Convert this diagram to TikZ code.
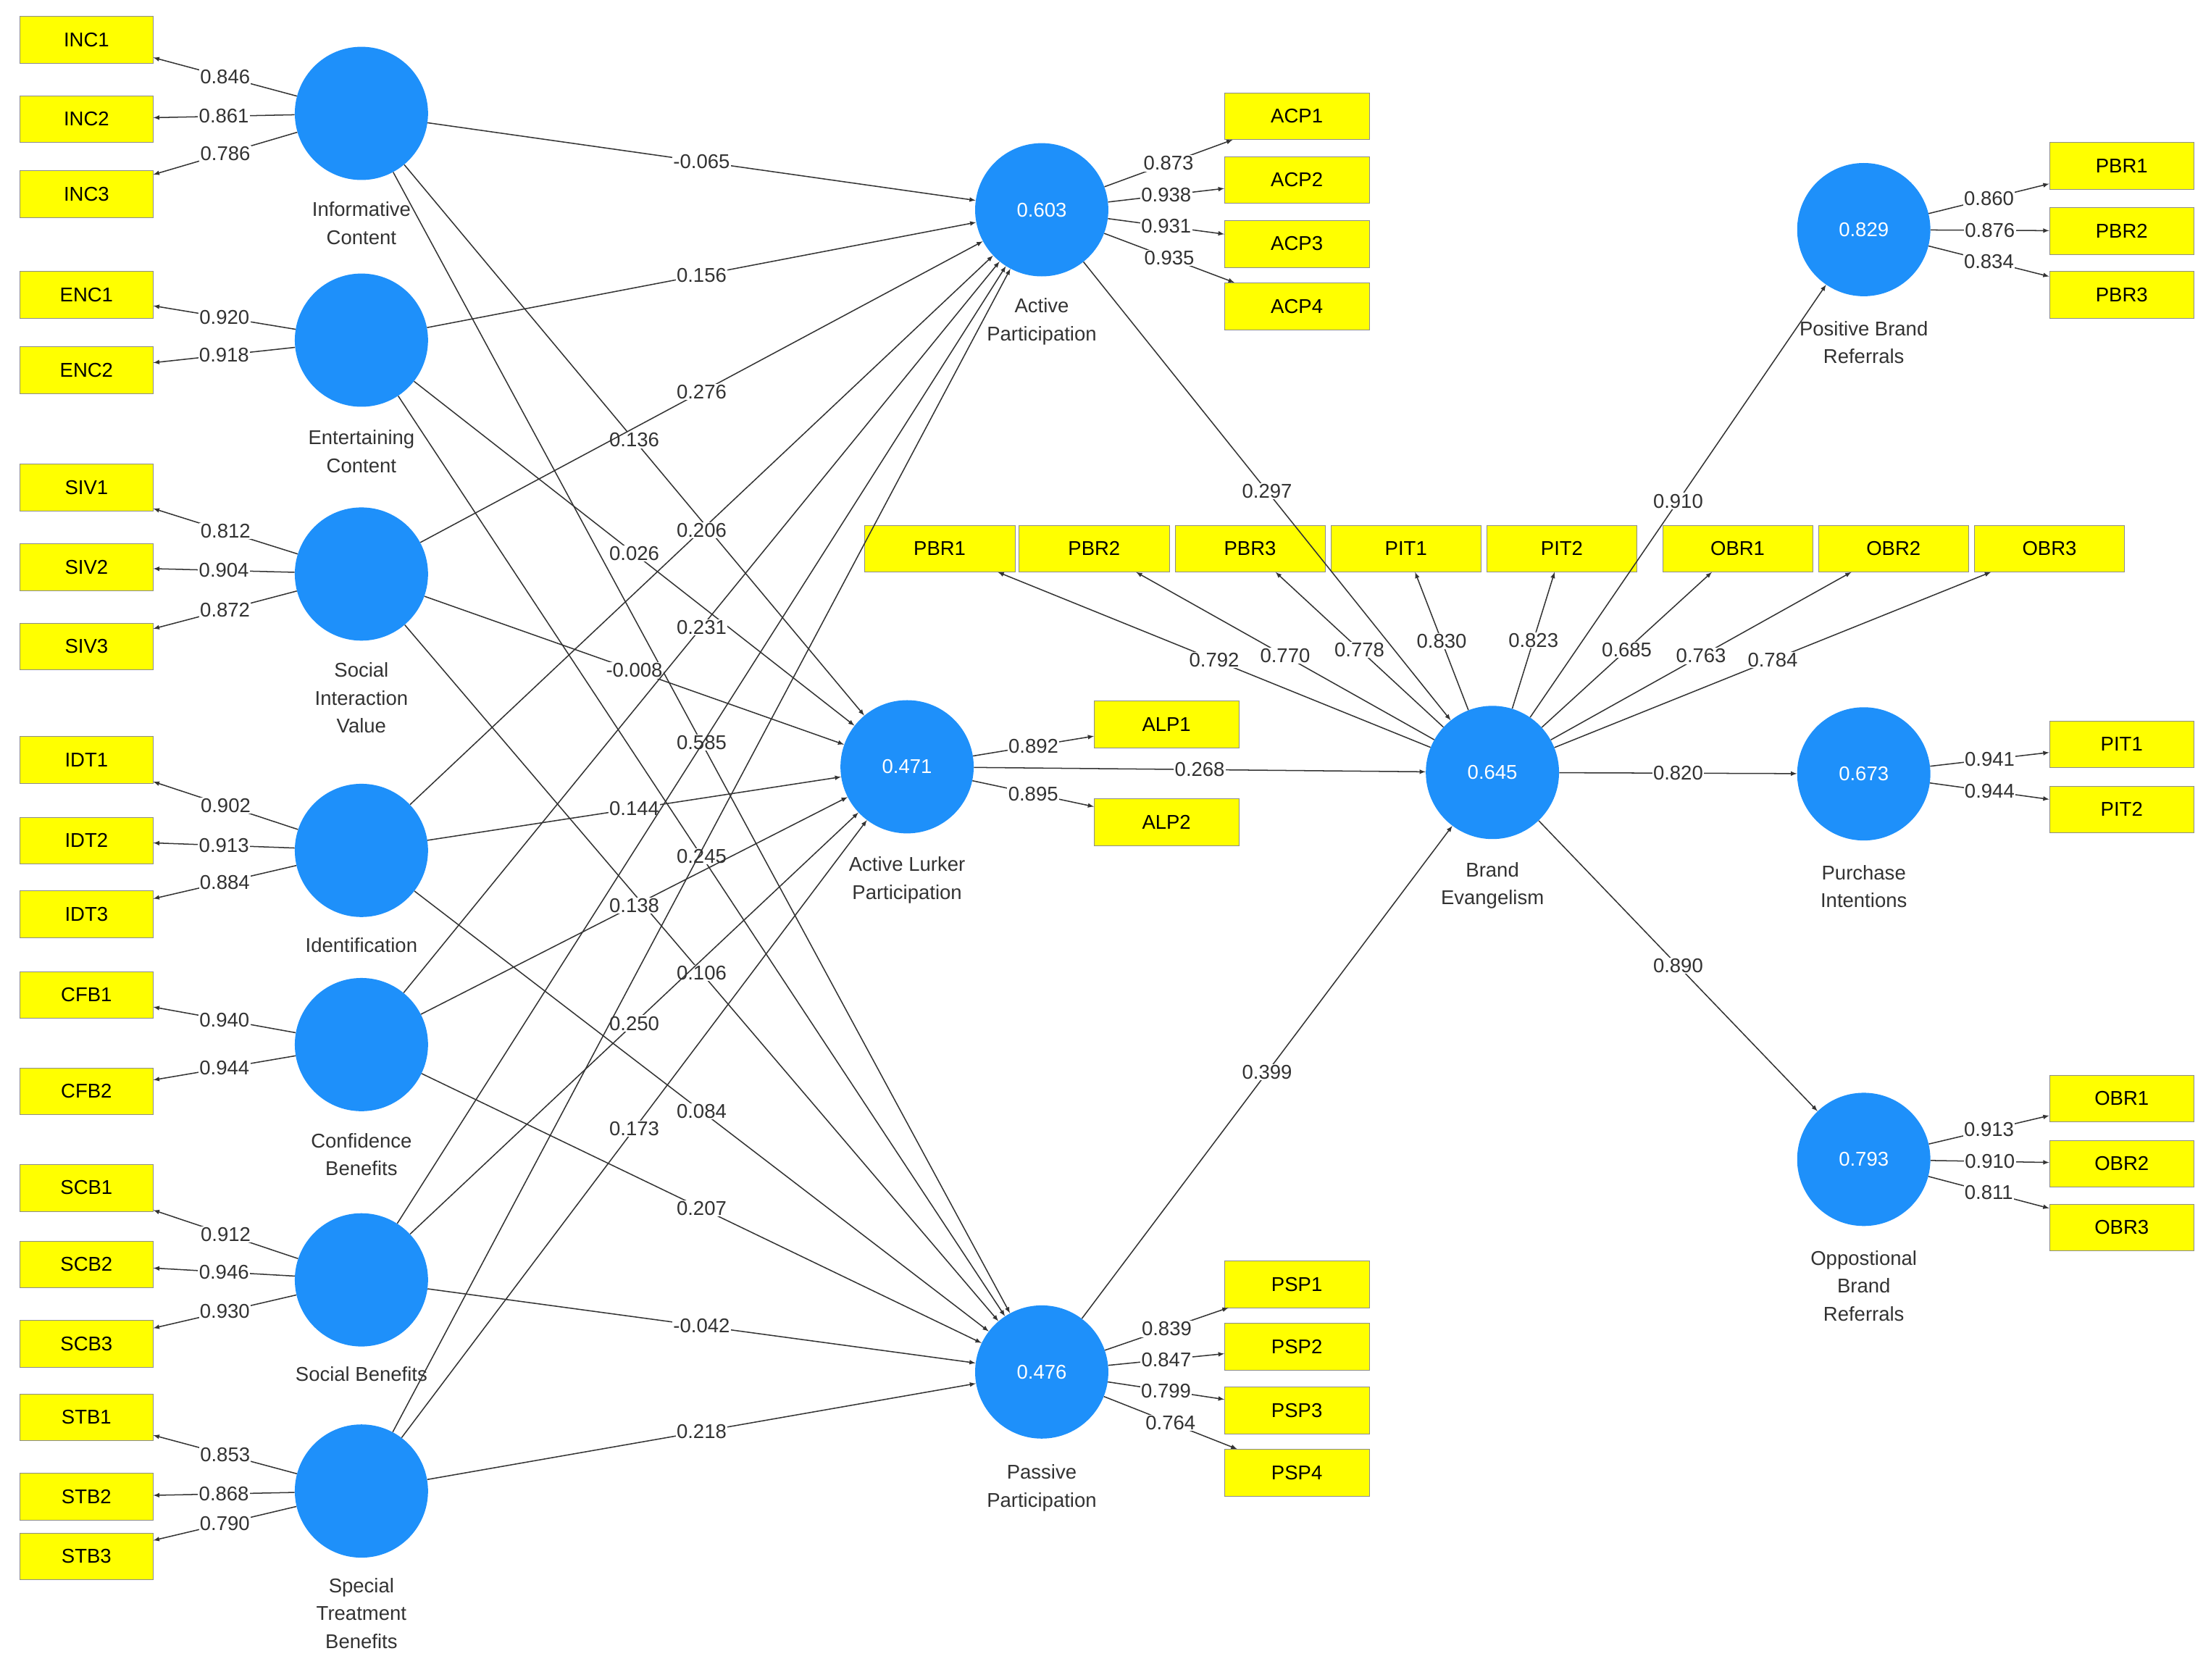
\documentclass[tikz,border=0pt]{standalone}
\usepackage{fontspec}
\setmainfont{Liberation Sans}
\definecolor{lvblue}{RGB}{30,144,250}
\definecolor{indyel}{RGB}{255,255,0}
\definecolor{txtgray}{RGB}{50,50,50}
\begin{document}
\begin{tikzpicture}[x=0.05cm,y=-0.05cm,>=latex,
  lv/.style={circle,fill=lvblue,minimum size=4.7cm,inner sep=0pt,text=white,font=\fontsize{20}{24}\selectfont},
  ind/.style={draw=black!45,fill=indyel,minimum width=4.7cm,minimum height=1.65cm,inner sep=0pt,font=\fontsize{20}{24}\selectfont},
  indw/.style={ind,minimum width=5.3cm},
  lvt/.style={align=center,text=txtgray,font=\fontsize{20}{28}\selectfont},
  lab/.style={fill=white,inner sep=1pt,font=\fontsize{20}{24}\selectfont,text=txtgray},
  pth/.style={->,line width=1.1pt,black!80}]
\useasboundingbox (0,0) rectangle (1560,1185);

% latent variables
\node[lv] (INC) at (255,80) {};
\node[lv] (ENC) at (255,240) {};
\node[lv] (SIV) at (255,405) {};
\node[lv] (IDT) at (255,600) {};
\node[lv] (CFB) at (255,737) {};
\node[lv] (SCB) at (255,903) {};
\node[lv] (STB) at (255,1052) {};
\node[lv] (ACP) at (735,148) {0.603};
\node[lv] (ALP) at (640,541) {0.471};
\node[lv] (PSP) at (735,968) {0.476};
\node[lv] (BE) at (1053,545) {0.645};
\node[lv] (PBR) at (1315,162) {0.829};
\node[lv] (PIT) at (1315,546) {0.673};
\node[lv] (OBR) at (1315,818) {0.793};

\node[lvt,anchor=north] (INCt) at (255,140) {Informative\\Content};
\node[lvt,anchor=north] (ENCt) at (255,301) {Entertaining\\Content};
\node[lvt,anchor=north] (SIVt) at (255,465) {Social\\Interaction\\Value};
\node[lvt,anchor=north] (IDTt) at (255,659) {Identification};
\node[lvt,anchor=north] (CFBt) at (255,797) {Confidence\\Benefits};
\node[lvt,anchor=north] (SCBt) at (255,962) {Social Benefits};
\node[lvt,anchor=north] (STBt) at (255,1111) {Special\\Treatment\\Benefits};
\node[lvt,anchor=north] (ACPt) at (735,208) {Active\\Participation};
\node[lvt,anchor=north] (ALPt) at (640,602) {Active Lurker\\Participation};
\node[lvt,anchor=north] (PSPt) at (735,1031) {Passive\\Participation};
\node[lvt,anchor=north] (BEt) at (1053,606) {Brand\\Evangelism};
\node[lvt,anchor=north] (PBRt) at (1315,224) {Positive Brand\\Referrals};
\node[lvt,anchor=north] (PITt) at (1315,608) {Purchase\\Intentions};
\node[lvt,anchor=north] (OBRt) at (1315,880) {Oppostional\\Brand\\Referrals};

% indicators left
\foreach \n/\y in {INC1/28,INC2/84,INC3/137,ENC1/208,ENC2/261,SIV1/344,SIV2/400,SIV3/456,
  IDT1/536,IDT2/593,IDT3/645,CFB1/702,CFB2/770,SCB1/838,SCB2/892,SCB3/948,STB1/1000,STB2/1056,STB3/1098}
  \node[ind] (\n) at (61,\y) {\n};
% indicators right
\foreach \n/\x/\y in {ACP1/915/82,ACP2/915/127,ACP3/915/172,ACP4/915/216,ALP1/823/511,ALP2/823/580,
  PSP1/915/906,PSP2/915/950,PSP3/915/995,PSP4/915/1039,PBR1/1497/117,PBR2/1497/163,PBR3/1497/208,
  PIT1/1497/525,PIT2/1497/571,OBR1/1497/775,OBR2/1497/821,OBR3/1497/866}
  \node[ind,minimum width=5.1cm] (\n) at (\x,\y) {\n};
% BE indicators (middle row)
\foreach \n/\t/\x in {m1/PBR1/663,m2/PBR2/772,m3/PBR3/882,m4/PIT1/992,m5/PIT2/1102,m6/OBR1/1226,m7/OBR2/1336,m8/OBR3/1446}
  \node[indw] (\n) at (\x,387) {\t};

% outer loadings
\foreach \a/\b/\v in {INC/INC1/0.846,INC/INC2/0.861,INC/INC3/0.786,ENC/ENC1/0.920,ENC/ENC2/0.918,
  SIV/SIV1/0.812,SIV/SIV2/0.904,SIV/SIV3/0.872,IDT/IDT1/0.902,IDT/IDT2/0.913,IDT/IDT3/0.884,
  CFB/CFB1/0.940,CFB/CFB2/0.944,SCB/SCB1/0.912,SCB/SCB2/0.946,SCB/SCB3/0.930,
  STB/STB1/0.853,STB/STB2/0.868,STB/STB3/0.790,
  ACP/ACP1/0.873,ACP/ACP2/0.938,ACP/ACP3/0.931,ACP/ACP4/0.935,ALP/ALP1/0.892,ALP/ALP2/0.895,
  PSP/PSP1/0.839,PSP/PSP2/0.847,PSP/PSP3/0.799,PSP/PSP4/0.764,
  PBR/PBR1/0.860,PBR/PBR2/0.876,PBR/PBR3/0.834,PIT/PIT1/0.941,PIT/PIT2/0.944,
  OBR/OBR1/0.913,OBR/OBR2/0.910,OBR/OBR3/0.811,
  BE/m1/0.792,BE/m2/0.770,BE/m3/0.778,BE/m4/0.830,BE/m5/0.823,BE/m6/0.685,BE/m7/0.763,BE/m8/0.784}
  \draw[pth] (\a) -- node[lab] {\v} (\b);

% structural paths
\foreach \a/\b/\v in {INC/ACP/-0.065,INC/ALP/0.136,INC/PSP/0.585,ENC/ACP/0.156,ENC/ALP/0.026,ENC/PSP/0.245,
  SIV/ACP/0.276,SIV/ALP/-0.008,SIV/PSP/0.106,IDT/ACP/0.206,IDT/ALP/0.144,IDT/PSP/0.084,
  CFB/ACP/0.231,CFB/ALP/0.138,CFB/PSP/0.207,SCB/ALP/0.250,SCB/PSP/-0.042,
  STB/ALP/0.173,STB/PSP/0.218,ACP/BE/0.297,ALP/BE/0.268,PSP/BE/0.399,BE/PBR/0.910,BE/PIT/0.820,BE/OBR/0.890}
  \draw[pth] (\a) -- node[lab] {\v} (\b);
\draw[pth] (SCB) -- (ACP);
\draw[pth] (STB) -- (ACP);
\end{tikzpicture}
\end{document}
